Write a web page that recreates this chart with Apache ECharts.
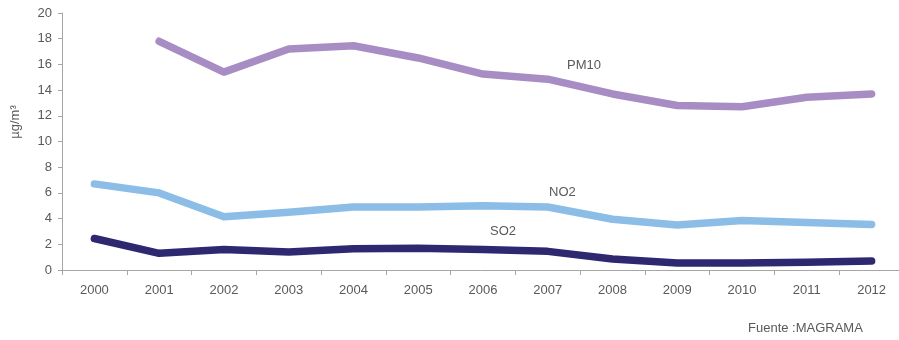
<!DOCTYPE html>
<html><head><meta charset="utf-8">
<script src="https://cdn.jsdelivr.net/npm/echarts@6/dist/echarts.min.js"></script>
<style>html,body{margin:0;padding:0;background:#fff}#c{width:899px;height:340px}</style>
</head><body><div id="c"></div>
<script>
const years = ['2000','2001','2002','2003','2004','2005','2006','2007','2008','2009','2010','2011','2012'];
const pm10 = [null,17.8,15.4,17.2,17.45,16.5,15.25,14.85,13.7,12.8,12.7,13.45,13.7];
const no2 = [6.7,6.0,4.15,4.5,4.9,4.9,5.0,4.9,3.95,3.5,3.85,3.7,3.55];
const so2 = [2.45,1.3,1.6,1.4,1.65,1.7,1.6,1.45,0.85,0.55,0.55,0.6,0.7];
const FONT = '"Liberation Sans",Arial,sans-serif';
const TXT = '#595959';
const chart = echarts.init(document.getElementById('c'));
function ser(name, data, color){
  return {name, type:'line', data, symbol:'none', smooth:false, connectNulls:false,
    lineStyle:{width:7.5, color, cap:'round', join:'round'}, itemStyle:{color}, z:2};
}
chart.setOption({
  animation:false,
  grid:{left:62, top:13, height:257, width:842, containLabel:false, outerBoundsMode:'none'},
  xAxis:{type:'category', data:years, boundaryGap:true,
    axisLine:{lineStyle:{color:'#a6a6a6', width:1}},
    axisTick:{show:true, length:5, lineStyle:{color:'#a6a6a6'}},
    axisLabel:{color:TXT, fontFamily:FONT, fontSize:13, margin:14}},
  yAxis:{type:'value', min:0, max:20, interval:2,
    axisLine:{show:true, lineStyle:{color:'#a6a6a6'}},
    axisTick:{show:true, inside:false, length:4, lineStyle:{color:'#a6a6a6'}},
    axisLabel:{color:TXT, fontFamily:FONT, fontSize:13, margin:10},
    splitLine:{show:false}},
  graphic:[
    {type:'text', x:15, y:122, rotation:Math.PI/2, style:{text:'µg/m³', fill:TXT, font:'13px '+FONT, align:'center', verticalAlign:'middle'}},
    {type:'text', left:567, top:59, style:{text:'PM10', fill:TXT, font:'13px '+FONT}},
    {type:'text', left:549, top:186, style:{text:'NO2', fill:TXT, font:'13px '+FONT}},
    {type:'text', left:490, top:225, style:{text:'SO2', fill:TXT, font:'13px '+FONT}},
    {type:'text', left:748, top:322, style:{text:'Fuente :MAGRAMA', fill:TXT, font:'13px '+FONT}}
  ],
  series:[ser('PM10', pm10, '#a88dc5'), ser('NO2', no2, '#8bbde6'), ser('SO2', so2, '#2e2870')]
});
</script></body></html>
